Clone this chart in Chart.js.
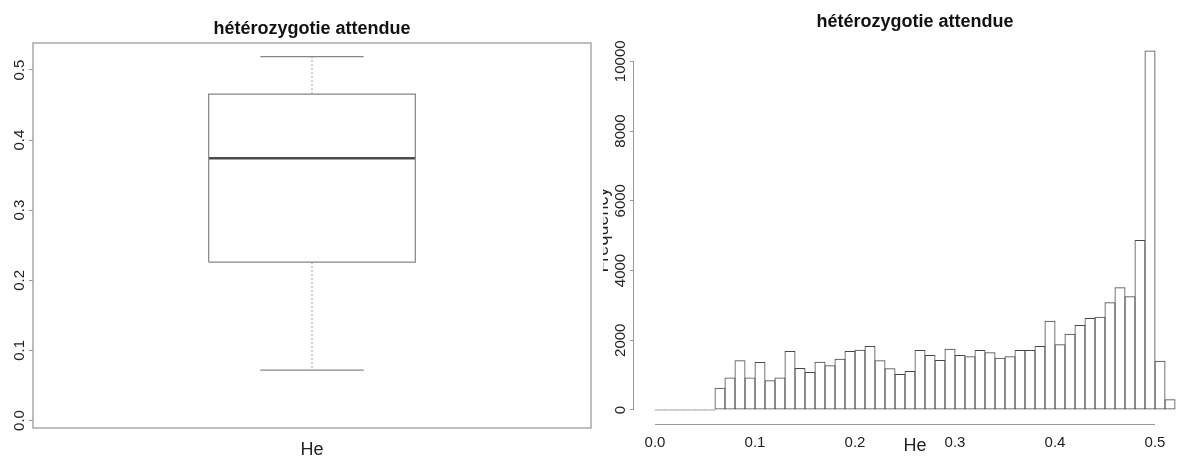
<!DOCTYPE html>
<html>
<head>
<meta charset="utf-8">
<script src="https://cdn.jsdelivr.net/npm/chart.js@4.4.0/dist/chart.umd.min.js"></script>
<style>
html, body { margin: 0; padding: 0; background: #fff; overflow: hidden; width: 1178px; height: 458px; }
#left { position: absolute; left: 0; top: 0; width: 600px; height: 458px; }
#right { position: absolute; left: 603px; top: 0; width: 575px; height: 458px; overflow: hidden; }
#right canvas { position: absolute; left: -20px; top: 0; }
</style>
</head>
<body>
<div id="left"><canvas id="box" width="600" height="458"></canvas></div>
<div id="right"><canvas id="hist" width="613" height="458"></canvas></div>
<script>
// ---------------- data ----------------
const chartTitle = 'hétérozygotie attendue';
const varName = 'He';
const yAxisName = 'Frequency';

// boxplot statistics: [lower whisker, Q1, median, Q3, upper whisker]
const boxStats = [0.072, 0.226, 0.374, 0.4655, 0.519];
const boxTickValues = [0, 0.1, 0.2, 0.3, 0.4, 0.5];
const boxTickLabels = ['0.0', '0.1', '0.2', '0.3', '0.4', '0.5'];

// histogram
const histBreaks = [0.00, 0.01, 0.02, 0.03, 0.04, 0.05, 0.06, 0.07, 0.08, 0.09,
                    0.10, 0.11, 0.12, 0.13, 0.14, 0.15, 0.16, 0.17, 0.18, 0.19,
                    0.20, 0.21, 0.22, 0.23, 0.24, 0.25, 0.26, 0.27, 0.28, 0.29,
                    0.30, 0.31, 0.32, 0.33, 0.34, 0.35, 0.36, 0.37, 0.38, 0.39,
                    0.40, 0.41, 0.42, 0.43, 0.44, 0.45, 0.46, 0.47, 0.48, 0.49,
                    0.50, 0.51, 0.52];
const histCounts = [0, 0, 0, 0, 0, 0, 640, 930, 1425, 930,
                    1377, 851, 930, 1692, 1205, 1090, 1386, 1281, 1472, 1692,
                    1730, 1835, 1425, 1195, 1032, 1118, 1720, 1577, 1434, 1759,
                    1577, 1539, 1720, 1654, 1500, 1539, 1720, 1720, 1835, 2562,
                    1883, 2189, 2438, 2639, 2677, 3088, 3518, 3260, 4876, 10310,
                    1415, 306];
const histXTickValues = [0, 0.1, 0.2, 0.3, 0.4, 0.5];
const histXTickLabels = ['0.0', '0.1', '0.2', '0.3', '0.4', '0.5'];
const histYTickValues = [0, 2000, 4000, 6000, 8000, 10000];
const histYTickLabels = ['0', '2000', '4000', '6000', '8000', '10000'];

// ---------------- styling ----------------
const FONT = 'Liberation Sans, Arial, Helvetica, sans-serif';
const TEXT = '#222';
const AXIS = '#9a9a9a';
const TICK_SIZE = 15;

function rotatedYLabels(id, values, labels, xCenter) {
  return {
    id: id,
    afterDraw(chart) {
      const s = chart.scales.y;
      const ctx = chart.ctx;
      ctx.save();
      ctx.fillStyle = TEXT;
      ctx.font = TICK_SIZE + 'px ' + FONT;
      ctx.textAlign = 'center';
      ctx.textBaseline = 'middle';
      values.forEach((v, i) => {
        const y = s.getPixelForValue(v);
        ctx.save();
        ctx.translate(xCenter, y);
        ctx.rotate(-Math.PI / 2);
        ctx.fillText(labels[i], 0, 0);
        ctx.restore();
      });
      ctx.restore();
    }
  };
}

const framePlugin = {
  id: 'frame',
  afterDraw(chart) {
    const { ctx, chartArea: a } = chart;
    ctx.save();
    ctx.strokeStyle = '#a8a8a8';
    ctx.lineWidth = 1.5;
    ctx.strokeRect(a.left, a.top, a.right - a.left, a.bottom - a.top);
    ctx.restore();
  }
};

const histAxesPlugin = {
  id: 'histAxes',
  afterDraw(chart) {
    const { ctx, chartArea: a, scales } = chart;
    const x = scales.x, y = scales.y;
    ctx.save();
    ctx.strokeStyle = AXIS;
    ctx.lineWidth = 1;
    ctx.beginPath();
    const yb = Math.round(a.bottom) + 0.5;
    ctx.moveTo(x.getPixelForValue(histXTickValues[0]), yb);
    ctx.lineTo(x.getPixelForValue(histXTickValues[histXTickValues.length - 1]), yb);
    const xl = Math.round(a.left) - 0.5;
    ctx.moveTo(xl, y.getPixelForValue(histYTickValues[0]));
    ctx.lineTo(xl, y.getPixelForValue(histYTickValues[histYTickValues.length - 1]));
    ctx.stroke();
    ctx.restore();
  }
};

// ---------------- boxplot (left) ----------------
const C = 1;          // box centre on the hidden x scale
const HW = 0.2;       // half box width
const CW = 0.1;       // half whisker-cap width
const [wLo, q1, med, q3, wHi] = boxStats;

const lineBase = { pointRadius: 0, borderWidth: 1.2, borderColor: '#858585', fill: false, tension: 0 };

new Chart(document.getElementById('box'), {
  type: 'line',
  data: {
    datasets: [
      Object.assign({}, lineBase, { label: 'box', data: [
        { x: C - HW, y: q1 }, { x: C + HW, y: q1 }, { x: C + HW, y: q3 },
        { x: C - HW, y: q3 }, { x: C - HW, y: q1 } ] }),
      Object.assign({}, lineBase, { label: 'median', borderColor: '#4a4a4a', borderWidth: 2.6,
        data: [{ x: C - HW, y: med }, { x: C + HW, y: med }] }),
      Object.assign({}, lineBase, { label: 'upper whisker', borderColor: '#a0a0a0', borderWidth: 1, borderDash: [2, 2],
        data: [{ x: C, y: q3 }, { x: C, y: wHi }] }),
      Object.assign({}, lineBase, { label: 'lower whisker', borderColor: '#a0a0a0', borderWidth: 1, borderDash: [2, 2],
        data: [{ x: C, y: q1 }, { x: C, y: wLo }] }),
      Object.assign({}, lineBase, { label: 'upper cap', data: [{ x: C - CW, y: wHi }, { x: C + CW, y: wHi }] }),
      Object.assign({}, lineBase, { label: 'lower cap', data: [{ x: C - CW, y: wLo }, { x: C + CW, y: wLo }] })
    ]
  },
  options: {
    responsive: false,
    animation: false,
    layout: { padding: { left: 0, right: 9, top: 0, bottom: 0 } },
    plugins: {
      legend: { display: false },
      tooltip: { enabled: false },
      title: {
        display: true, text: chartTitle, fullSize: false, color: '#111',
        font: { family: FONT, size: 18, weight: 'bold', lineHeight: 1.2 },
        padding: { top: 18.2, bottom: 3.2 }
      }
    },
    scales: {
      x: {
        type: 'linear', min: 0.46, max: 1.54, bounds: 'data',
        ticks: { display: false }, grid: { display: false }, border: { display: false },
        title: { display: true, text: varName, color: TEXT,
                 font: { family: FONT, size: 18, lineHeight: 1 }, padding: { top: 0, bottom: -1 } },
        afterFit(s) { s.height = 30; }
      },
      y: {
        type: 'linear', min: -0.0107, max: 0.5385, bounds: 'data',
        ticks: { display: false },
        grid: { drawOnChartArea: false, drawTicks: true, tickLength: 4, color: AXIS },
        border: { display: false },
        afterBuildTicks(s) { s.ticks = boxTickValues.map(v => ({ value: v })); },
        afterFit(s) { s.width = 33; }
      }
    }
  },
  plugins: [framePlugin, rotatedYLabels('boxLabels', boxTickValues, boxTickLabels, 19.5)]
});

// ---------------- histogram (right) ----------------
const histPoints = histCounts.map((c, i) => ({ x: (histBreaks[i] + histBreaks[i + 1]) / 2, y: c }));

new Chart(document.getElementById('hist'), {
  type: 'bar',
  data: {
    datasets: [{
      label: varName,
      data: histPoints,
      backgroundColor: 'rgba(255,255,255,0)',
      borderColor: '#474747',
      borderWidth: 1,
      borderSkipped: false,
      barPercentage: 1.1,
      categoryPercentage: 1,
      minBarLength: 1
    }]
  },
  options: {
    responsive: false,
    animation: false,
    layout: { padding: 0 },
    plugins: {
      legend: { display: false },
      tooltip: { enabled: false },
      title: {
        display: true, text: chartTitle, fullSize: false, color: '#111',
        font: { family: FONT, size: 18, weight: 'bold', lineHeight: 1.2 },
        padding: { top: 11.7, bottom: 2.5 }
      }
    },
    scales: {
      x: {
        type: 'linear', min: -0.021, max: 0.541, bounds: 'data', offset: false,
        grid: { display: false, offset: false }, border: { display: false },
        ticks: { color: TEXT, font: { family: FONT, size: TICK_SIZE }, padding: 1,
                 autoSkip: false, maxRotation: 0, minRotation: 0,
                 callback: (v, i) => histXTickLabels[i] },
        afterBuildTicks(s) { s.ticks = histXTickValues.map(v => ({ value: v })); },
        title: { display: true, text: varName, color: TEXT,
                 font: { family: FONT, size: 18, lineHeight: 1.2 }, padding: { top: 0, bottom: 1.2 } },
        afterFit(s) { s.height = 33.6; }
      },
      y: {
        type: 'linear', min: -413, max: 10731, bounds: 'data',
        ticks: { display: false },
        grid: { drawOnChartArea: false, drawTicks: true, tickLength: 4, color: AXIS },
        border: { display: false },
        afterBuildTicks(s) { s.ticks = histYTickValues.map(v => ({ value: v })); },
        title: { display: true, text: yAxisName, color: TEXT,
                 font: { family: FONT, size: 18, lineHeight: 1.2 }, padding: { top: 9.7, bottom: 0 } },
        afterFit(s) { s.width = 51; }
      }
    }
  },
  plugins: [histAxesPlugin, rotatedYLabels('histLabels', histYTickValues, histYTickLabels, 38)]
});
</script>
</body>
</html>
